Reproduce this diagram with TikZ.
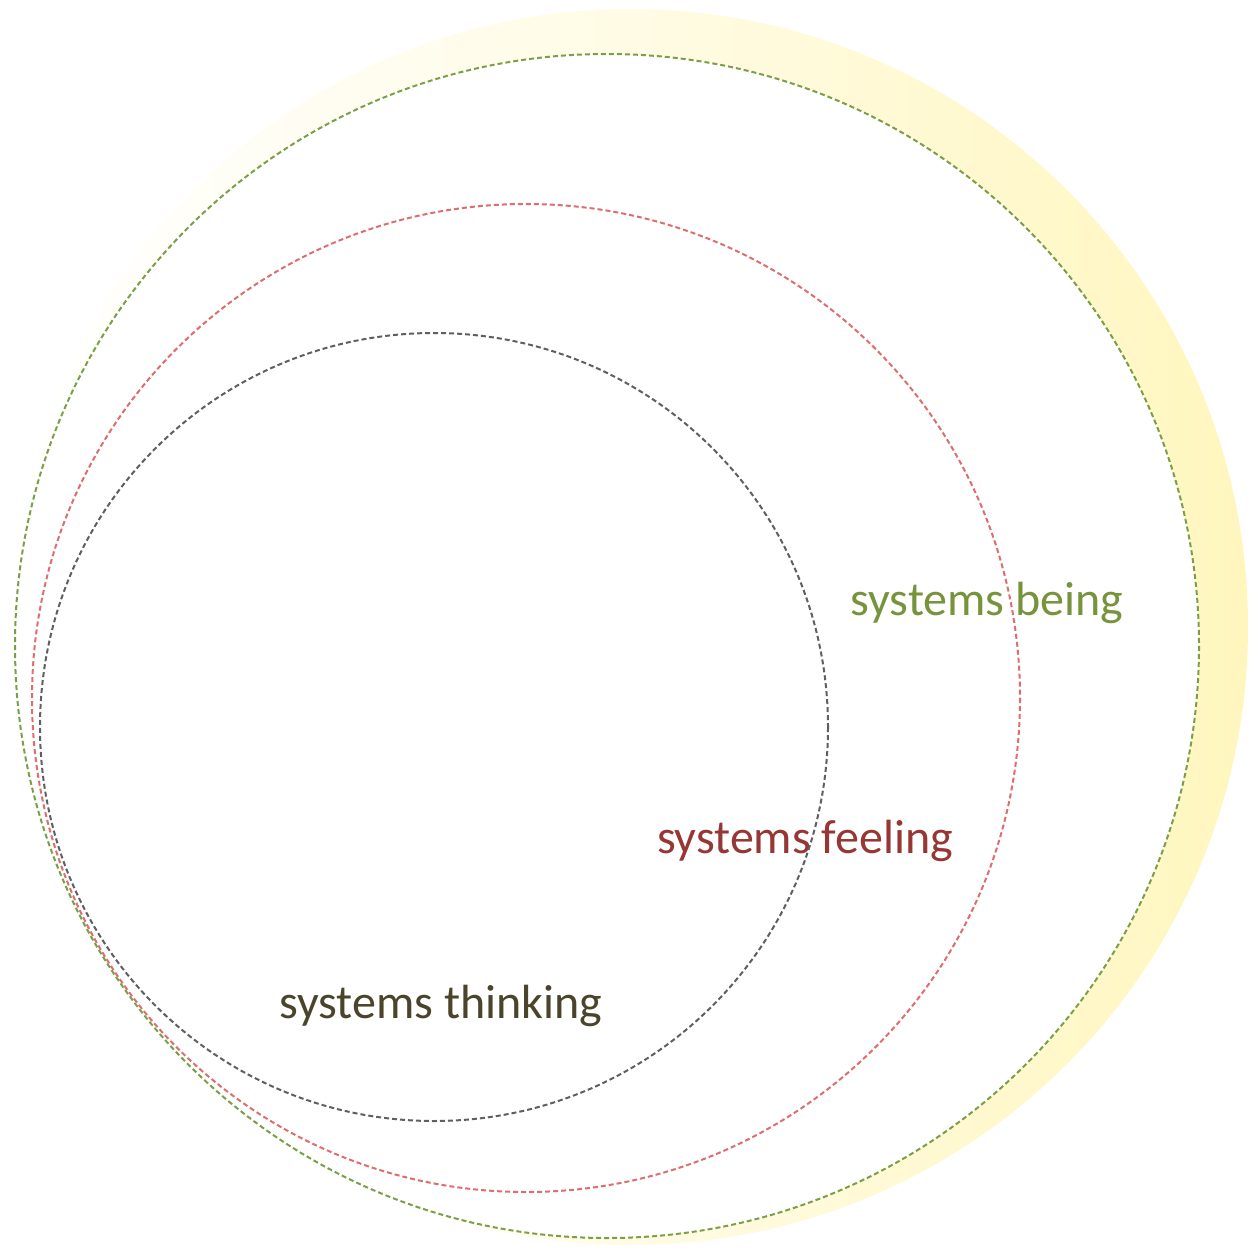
\documentclass[tikz,border=0pt]{standalone}
\usepackage{fontspec}
\setmainfont{Carlito}
\usepackage{tikz}
\usepackage{xcolor}
\definecolor{beingcol}{RGB}{119,147,60}
\definecolor{feelcol}{RGB}{150,55,53}
\definecolor{thinkcol}{RGB}{74,69,42}
\definecolor{ringgreen}{RGB}{122,160,70}
\definecolor{ringred}{RGB}{222,110,110}
\definecolor{ringgray}{RGB}{95,95,95}
\definecolor{glow}{RGB}{255,246,190}
\tikzset{ring/.style={dash pattern=on 5pt off 3pt, line width=2pt},
  label/.style={anchor=base, font=\fontsize{48}{58}\selectfont}}

\begin{document}
\begin{tikzpicture}[x=1pt,y=-1pt]
  \useasboundingbox (0,0) rectangle (1248,1249);
  \shade[left color=white, right color=glow, middle color=glow!40] (630,627) circle (618);
  \fill[white] (607,646) circle (592);

  \node[label, text=beingcol] (being) at (987,615) {systems being};
  \node[label, text=feelcol] (feeling) at (805,853) {systems feeling};
  \node[label, text=thinkcol] (thinking) at (441,1018) {systems thinking};

  \draw[ring, ringgreen] (607,646) circle (592);
  \draw[ring, ringred] (526,698) circle (494);
  \draw[ring, ringgray] (434,727) circle (394);
\end{tikzpicture}
\end{document}
